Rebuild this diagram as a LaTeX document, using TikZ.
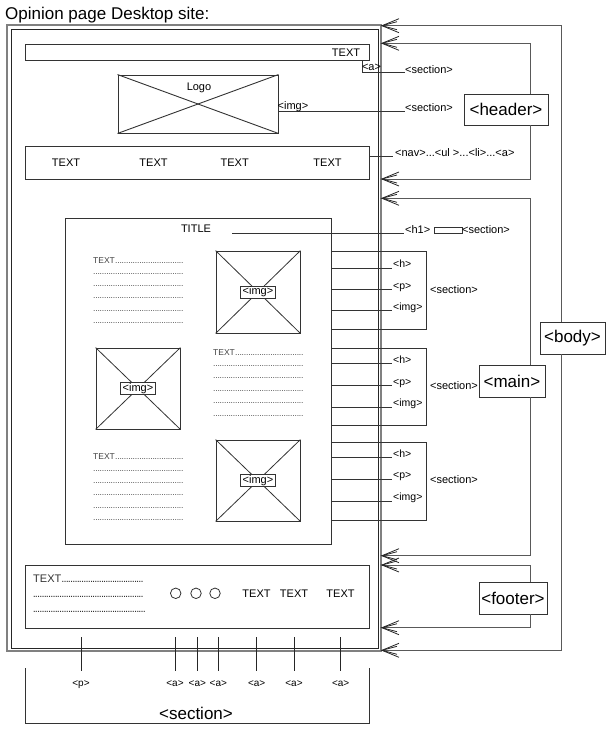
\documentclass[tikz,border=0pt]{standalone}
\usepackage{fontspec}
\setmainfont{Liberation Sans}
\newcommand\dotsrow{\leaders\hbox to 2.2pt{\hss.\hss}\hfill}
\begin{document}
\begin{tikzpicture}[x=1pt,y=-1pt,
  ln/.style={draw=black!80, line width=0.9pt},
  boxn/.style={draw=black!80, line width=0.9pt, inner sep=0pt},
  lbl/.style={inner sep=0pt, text depth=0pt, font=\fontsize{11}{12}\selectfont},
  sml/.style={inner sep=0pt, text depth=0pt, font=\fontsize{10.5}{12}\selectfont},
  tiny/.style={inner sep=0pt, text depth=0pt, font=\fontsize{10}{11}\selectfont},
  blk/.style={inner sep=0pt, text depth=0pt, anchor=west, text=black!75, font=\fontsize{8.5}{9}\selectfont},
  fblk/.style={inner sep=0pt, text depth=0pt, anchor=west, text=black!80, font=\fontsize{11}{12}\selectfont},
  tag/.style={draw=black!80, line width=0.9pt, fill=white, inner sep=0pt, font=\fontsize{17}{18}\selectfont},
  imgl/.style={draw=black!80, line width=0.9pt, fill=white, inner sep=0pt, minimum width=35pt, minimum height=12pt, font=\fontsize{11}{12}\selectfont},
  brk/.style={draw=black!65, line width=1pt},
  chev/.pic={\draw[black!85, line width=0.8pt] (17,-7) -- (0,0) -- (17,7);
             \draw[black!85, line width=0.8pt] (15,-4) -- (0,0) -- (15,4);}
]
\useasboundingbox (0,0) rectangle (613,742);

% title
\node[anchor=west, inner sep=0pt, text depth=0pt, font=\fontsize{17}{19}\selectfont] (title) at (5,13) {Opinion page Desktop site:};

% page frame
\node[draw=black!50, line width=2pt, minimum width=374pt, minimum height=626pt, inner sep=0pt] (frame) at (194,338) {};
\node[draw=black!85, line width=0.8pt, minimum width=367pt, minimum height=619pt, inner sep=0pt] (inframe) at (194.5,338.5) {};

% ---------- header ----------
\node[boxn, minimum width=344pt, minimum height=16pt] (hbar) at (197,52) {};
\node[lbl] (hbartext) at (346,52.3) {TEXT};
\coordinate (ax) at (362,72);
\coordinate (aend) at (405,72);
\draw[ln] (hbar.south -| ax) -- (ax) -- (aend);
\node[lbl] (alab) at (371.5,67) {<a>};
\node[lbl, anchor=west] (sec1) at (405,70) {<section>};

\node[boxn, minimum width=160pt, minimum height=58pt] (logo) at (198,104) {};
\draw[ln] (logo.north west) -- (logo.south east);
\draw[ln] (logo.south west) -- (logo.north east);
\node[lbl] (logot) at (199,86.5) {Logo};
\coordinate (imgend) at (405,111.7);
\draw[ln] (logo.east |- imgend) -- (imgend);
\node[lbl, anchor=west] (imglogo) at (277.5,106) {<img>};
\node[lbl, anchor=west] (sec2) at (405,108) {<section>};

\node[boxn, minimum width=344pt, minimum height=33pt] (nav) at (197,162.5) {};
\node[lbl] (nt1) at (66,162.3) {TEXT};
\node[lbl] (nt2) at (153.5,162.3) {TEXT};
\node[lbl] (nt3) at (234.7,162.3) {TEXT};
\node[lbl] (nt4) at (327.5,162.3) {TEXT};
\coordinate (navend) at (393,156);
\draw[ln] (nav.east |- navend) -- (navend);
\node[lbl, anchor=west] (navl) at (395,152.3) {<nav>...<ul >...<li>...<a>};

% ---------- main ----------
\node[boxn, minimum width=266pt, minimum height=326pt] (mainc) at (198,381) {};
\node[lbl] (ttl) at (196,229) {TITLE};
\coordinate (h1start) at (232,233);
\coordinate (h1end) at (404,233);
\draw[ln] (h1start) -- (h1end);
\node[lbl, anchor=west] (h1l) at (405,230) {<h1>};
\node[draw=black!80, line width=0.8pt, minimum width=28pt, minimum height=6pt, inner sep=0pt] (h1box) at (448,230) {};
\node[lbl, anchor=west] (sech1) at (462,230) {<section>};

% section boxes
\node[boxn, minimum width=95pt, minimum height=78pt] (s1) at (378.5,290) {};
\node[boxn, minimum width=95pt, minimum height=77pt] (s2) at (378.5,386.5) {};
\node[boxn, minimum width=95pt, minimum height=78pt] (s3) at (378.5,481) {};

\coordinate (s1a) at (392,268);   \coordinate (s1b) at (392,289);   \coordinate (s1c) at (392,310);
\coordinate (s2a) at (392,363.7); \coordinate (s2b) at (392,385);   \coordinate (s2c) at (392,407);
\coordinate (s3a) at (392,457.3); \coordinate (s3b) at (392,479.3); \coordinate (s3c) at (392,501);
\foreach \c in {s1a,s1b,s1c,s2a,s2b,s2c,s3a,s3b,s3c}{\draw[ln] (mainc.east |- \c) -- (\c);}

\node[sml, anchor=west] (s1h) at (393,263.3) {<h>};
\node[sml, anchor=west] (s1p) at (393,286) {<p>};
\node[sml, anchor=west] (s1i) at (393,306.7) {<img>};
\node[lbl, anchor=west] (s1s) at (430,290) {<section>};
\node[sml, anchor=west] (s2h) at (393,360) {<h>};
\node[sml, anchor=west] (s2p) at (393,382.3) {<p>};
\node[sml, anchor=west] (s2i) at (393,402.7) {<img>};
\node[lbl, anchor=west] (s2s) at (430,385.7) {<section>};
\node[sml, anchor=west] (s3h) at (393,454) {<h>};
\node[sml, anchor=west] (s3p) at (393,475.3) {<p>};
\node[sml, anchor=west] (s3i) at (393,496.7) {<img>};
\node[lbl, anchor=west] (s3s) at (430,480) {<section>};

% images
\node[boxn, minimum width=84pt, minimum height=82pt] (img1) at (258,292) {};
\node[boxn, minimum width=84pt, minimum height=81pt] (img2) at (138,388.5) {};
\node[boxn, minimum width=84pt, minimum height=81pt] (img3) at (258,480.5) {};
\foreach \i in {img1,img2,img3}{
  \draw[ln, line width=0.8pt] (\i.north west) -- (\i.south east);
  \draw[ln, line width=0.8pt] (\i.south west) -- (\i.north east);
}
\node[imgl] (img1l) at (img1.center) {<img>};
\node[imgl] (img2l) at (img2.center) {<img>};
\node[imgl] (img3l) at (img3.center) {<img>};

% text blocks
\node[blk] (b1t) at (93,261) {\makebox[91pt][l]{TEXT\dotsrow}};
\foreach \y [count=\k] in {274,286,298,311,323}{\node[blk] (b1r\k) at (93,\y) {\makebox[91pt]{\dotsrow}};}
\node[blk] (b2t) at (213,353) {\makebox[92pt][l]{TEXT\dotsrow}};
\foreach \y [count=\k] in {366,378,391,403,416}{\node[blk] (b2r\k) at (213,\y) {\makebox[92pt]{\dotsrow}};}
\node[blk] (b3t) at (93,457) {\makebox[91pt][l]{TEXT\dotsrow}};
\foreach \y [count=\k] in {471,483,495,508,520}{\node[blk] (b3r\k) at (93,\y) {\makebox[91pt]{\dotsrow}};}

% ---------- footer ----------
\node[boxn, minimum width=344pt, minimum height=63pt] (fbox) at (197,596.5) {};
\node[fblk] (ft1) at (33,578.3) {\makebox[110pt][l]{TEXT\dotsrow}};
\node[fblk] (ft2) at (33,596.7) {\makebox[110pt]{\dotsrow}};
\node[fblk] (ft3) at (33,611.7) {\makebox[113pt]{\dotsrow}};
\node[circle, draw=black!80, line width=0.8pt, minimum size=10.5pt, inner sep=0pt] (c1) at (175.7,593.3) {};
\node[circle, draw=black!80, line width=0.8pt, minimum size=10.5pt, inner sep=0pt] (c2) at (196,593.3) {};
\node[circle, draw=black!80, line width=0.8pt, minimum size=10.5pt, inner sep=0pt] (c3) at (215,593.3) {};
\node[lbl] (fx1) at (256.5,593.3) {TEXT};
\node[lbl] (fx2) at (294,593.3) {TEXT};
\node[lbl] (fx3) at (340.5,593.3) {TEXT};

% footer links
\foreach \x/\n in {81/1,175/2,197.3/3,218.3/4,256.7/5,294/6,340.7/7}{
  \coordinate (v\n t) at (\x,637);
  \coordinate (v\n b) at (\x,671);
  \draw[line width=0.8pt, black!85] (v\n t) -- (v\n b);
}
\node[tiny] (pl) at (81,684) {<p>};
\node[tiny] (al2) at (175,684) {<a>};
\node[tiny] (al3) at (197.3,684) {<a>};
\node[tiny] (al4) at (218.3,684) {<a>};
\node[tiny] (al5) at (256.7,684) {<a>};
\node[tiny] (al6) at (294,684) {<a>};
\node[tiny] (al7) at (340.7,684) {<a>};
\coordinate (bl) at (25,668);
\coordinate (bbl) at (25,723);
\coordinate (bbr) at (369,723);
\coordinate (br) at (369,668);
\draw[ln] (bl) -- (bbl) -- (bbr) -- (br);
\node[inner sep=0pt, text depth=0pt, font=\fontsize{17}{18}\selectfont] (bsec) at (196,713) {<section>};

% ---------- right brackets ----------
\coordinate (bx) at (561,0);
\coordinate (hx) at (530,0);
\coordinate (bT) at (382,25.7);
\coordinate (bB) at (382,650.3);
\coordinate (hT) at (382,43.3);
\coordinate (hB) at (382,179);
\coordinate (mT) at (382,198.3);
\coordinate (mB) at (382,555.7);
\coordinate (fT) at (382,565);
\coordinate (fB) at (382,627.7);

\node[tag, minimum width=65pt, minimum height=32pt] (body) at (572.5,338) {<body>};
\node[tag, minimum width=84pt, minimum height=31pt] (hdr) at (506,109.5) {<header>};
\node[tag, minimum width=66pt, minimum height=32pt] (mn) at (512,381) {<main>};
\node[tag, minimum width=68pt, minimum height=32pt] (ft) at (513,598) {<footer>};

\draw[brk] (body.north -| bx) |- (bT) pic {chev};
\draw[brk] (body.south -| bx) |- (bB) pic {chev};
\draw[brk] (hdr.north -| hx) |- (hT) pic {chev};
\draw[brk] (hdr.south -| hx) |- (hB) pic {chev};
\draw[brk] (mn.north -| hx) |- (mT) pic {chev};
\draw[brk] (mn.south -| hx) |- (mB) pic {chev};
\draw[brk] (ft.north -| hx) |- (fT) pic {chev};
\draw[brk] (ft.south -| hx) |- (fB) pic {chev};
\end{tikzpicture}
\end{document}
